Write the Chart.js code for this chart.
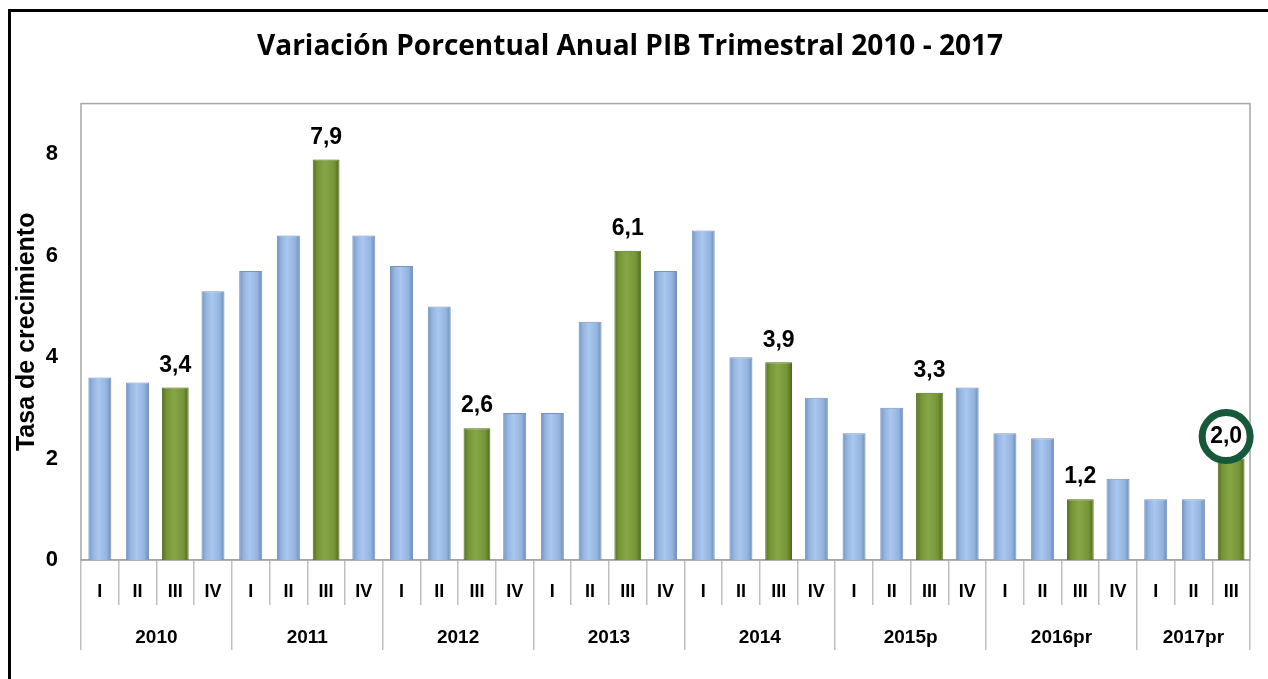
<!DOCTYPE html>
<html>
<head>
<meta charset="utf-8">
<title>Variación Porcentual Anual PIB Trimestral 2010 - 2017</title>
<script src="https://cdn.jsdelivr.net/npm/chart.js@4.4.0/dist/chart.umd.min.js"></script>
<style>
    html, body { margin: 0; padding: 0; background: #fff; }
    #wrap { position: relative; width: 1268px; height: 679px; overflow: hidden; }
    #wrap canvas { position: absolute; left: 0; top: 0; }
    #frame {
        position: absolute; left: 8px; top: 9px; right: 0; bottom: 0;
        border-top: 3px solid #000; border-left: 3px solid #000;
        pointer-events: none;
    }
</style>
</head>
<body>
<div id="wrap">
    <canvas id="pibChart" width="1268" height="679"></canvas>
    <div id="frame"></div>
</div>
<script>
        // --- 1. Data ---

        const years = ['2010', '2011', '2012', '2013', '2014', '2015p', '2016pr', '2017pr'];
        const quartersPerYear = [4, 4, 4, 4, 4, 4, 4, 3];
        const quarterNames = ['I', 'II', 'III', 'IV'];

        // Annual % change of quarterly GDP, one value per quarter (2010-I .. 2017-III)
        const growth = [
            3.6, 3.5, 3.4, 5.3,
            5.7, 6.4, 7.9, 6.4,
            5.8, 5.0, 2.6, 2.9,
            2.9, 4.7, 6.1, 5.7,
            6.5, 4.0, 3.9, 3.2,
            2.5, 3.0, 3.3, 3.4,
            2.5, 2.4, 1.2, 1.6,
            1.2, 1.2, 2.0
        ];

        // third quarters are drawn in green with their value on top
        const highlighted = [2, 6, 10, 14, 18, 22, 26, 30];
        const circledIndex = 30;

        const yTicks = [0, 2, 4, 6, 8];

        // quarter labels for the category axis
        const categories = years.flatMap((y, i) => quarterNames.slice(0, quartersPerYear[i]));

        // year boundaries / centres on a 0..n scale that lines up with the categories
        const yearBounds = [0];
        quartersPerYear.forEach(n => yearBounds.push(yearBounds[yearBounds.length - 1] + n));
        const yearCenters = years.map((y, i) => (yearBounds[i] + yearBounds[i + 1]) / 2);

        const blueData = growth.map((v, i) => highlighted.includes(i) ? null : v);
        const greenData = growth.map((v, i) => highlighted.includes(i) ? v : null);

        const FONT = '"Liberation Sans", Arial, sans-serif';
        const BLUE_PCT = 0.61;
        const GREEN_PCT = 0.71;

        // horizontal gradient that gives the bars their rounded look
        const barGradient = (stops, pct) => (context) => {
            const chart = context.chart;
            const xScale = chart.scales.x;
            if (!xScale || context.type !== 'data') return stops[2];
            const xc = xScale.getPixelForValue(context.dataIndex);
            const half = xScale.width / categories.length * pct / 2;
            if (!isFinite(xc) || !isFinite(half) || half <= 0) return stops[2];
            const g = chart.ctx.createLinearGradient(xc - half, 0, xc + half, 0);
            g.addColorStop(0, stops[0]);
            g.addColorStop(0.18, stops[1]);
            g.addColorStop(0.45, stops[2]);
            g.addColorStop(0.8, stops[1]);
            g.addColorStop(1, stops[3]);
            return g;
        };

        // --- 2. Plugins ---

        // grey box round the plot area
        const plotFrame = {
            id: 'plotFrame',
            beforeDatasetsDraw(chart) {
                const { ctx, chartArea: a } = chart;
                ctx.save();
                ctx.strokeStyle = '#a6a6a6';
                ctx.lineWidth = 1.5;
                ctx.strokeRect(a.left, a.top, a.right - a.left, a.bottom - a.top);
                ctx.restore();
            }
        };

        // values over the green bars, last one inside a circle
        const valueLabels = {
            id: 'valueLabels',
            afterDatasetsDraw(chart) {
                const ctx = chart.ctx;
                const meta = chart.getDatasetMeta(1);
                ctx.save();
                ctx.font = 'bold 23px ' + FONT;
                ctx.textAlign = 'center';
                ctx.textBaseline = 'middle';
                meta.data.forEach((bar, i) => {
                    const v = greenData[i];
                    if (v === null) return;
                    let x = bar.x;
                    const y = bar.y - 22;
                    if (i === circledIndex) {
                        x -= 5;
                        ctx.beginPath();
                        ctx.arc(x, y, 24, 0, Math.PI * 2);
                        ctx.fillStyle = '#fff';
                        ctx.fill();
                        ctx.lineWidth = 7;
                        ctx.strokeStyle = '#17573a';
                        ctx.stroke();
                    }
                    ctx.fillStyle = '#000';
                    ctx.fillText(v.toFixed(1).replace('.', ','), x, y);
                });
                ctx.restore();
            }
        };

        // --- 3. Chart ---

        const ctx = document.getElementById('pibChart').getContext('2d');

        new Chart(ctx, {
            type: 'bar',
            data: {
                labels: categories,
                datasets: [
                    {
                        label: 'Trimestre',
                        data: blueData,
                        backgroundColor: barGradient(['#6f8fbd', '#93b3df', '#a9c7ef', '#6a8ab8'], BLUE_PCT),
                        borderColor: '#7593bf',
                        borderWidth: 1,
                        barPercentage: BLUE_PCT,
                        categoryPercentage: 1,
                        grouped: false
                    },
                    {
                        label: 'Tercer trimestre',
                        data: greenData,
                        backgroundColor: barGradient(['#55701f', '#769536', '#86a747', '#506b1d'], GREEN_PCT),
                        borderColor: '#4e6a1e',
                        borderWidth: 1,
                        barPercentage: GREEN_PCT,
                        categoryPercentage: 1,
                        grouped: false
                    }
                ]
            },
            options: {
                responsive: false,
                animation: false,
                layout: { padding: { left: 10, right: 18, top: 0, bottom: 29 } },
                scales: {
                    y: {
                        min: 0,
                        max: 9,
                        afterBuildTicks: (scale) => { scale.ticks = yTicks.map(v => ({ value: v })); },
                        ticks: { font: { family: FONT, size: 22, weight: 'bold' }, color: '#000', padding: 15 },
                        grid: { display: false },
                        border: { display: false },
                        title: {
                            display: true,
                            text: 'Tasa de crecimiento',
                            color: '#000',
                            font: { family: FONT, size: 25, weight: 'bold' },
                            padding: { top: 2, bottom: 0 }
                        },
                        afterFit: (scale) => { scale.width = 71; }
                    },
                    x: {
                        offset: true,
                        grid: { offset: true, drawOnChartArea: false, tickLength: 45, color: '#bfbfbf', lineWidth: 1.5 },
                        border: { display: true, color: '#a6a6a6', width: 1.5 },
                        ticks: {
                            font: { family: FONT, size: 18, weight: 'bold' },
                            color: '#000',
                            padding: -24,
                            autoSkip: false,
                            maxRotation: 0
                        },
                        afterFit: (scale) => { scale.height = 45; }
                    },
                    x2: {
                        type: 'linear',
                        position: 'bottom',
                        min: 0,
                        max: categories.length,
                        offset: false,
                        afterBuildTicks: (scale) => {
                            scale.ticks = yearBounds.concat(yearCenters)
                                .sort((a, b) => a - b)
                                .map(v => ({ value: v }));
                        },
                        grid: {
                            offset: false,
                            drawOnChartArea: false,
                            tickLength: 45,
                            lineWidth: 1.5,
                            color: (c) => (c.tick && yearBounds.includes(c.tick.value)) ? '#bfbfbf' : 'rgba(0,0,0,0)'
                        },
                        border: { display: false },
                        ticks: {
                            font: { family: FONT, size: 19, weight: 'bold' },
                            color: '#000',
                            padding: -24,
                            autoSkip: false,
                            maxRotation: 0,
                            callback: (value) => {
                                const i = yearCenters.indexOf(value);
                                return i >= 0 ? years[i] : '';
                            }
                        },
                        afterFit: (scale) => { scale.height = 45; }
                    }
                },
                plugins: {
                    legend: { display: false },
                    tooltip: { enabled: false },
                    title: {
                        display: true,
                        text: 'Variación Porcentual Anual PIB Trimestral 2010 - 2017',
                        color: '#000',
                        font: { family: '"Open Sans", Lato, sans-serif', size: 28, weight: 'bold' },
                        padding: { top: 30, bottom: 40 }
                    }
                }
            },
            plugins: [plotFrame, valueLabels]
        });
</script>
</body>
</html>
